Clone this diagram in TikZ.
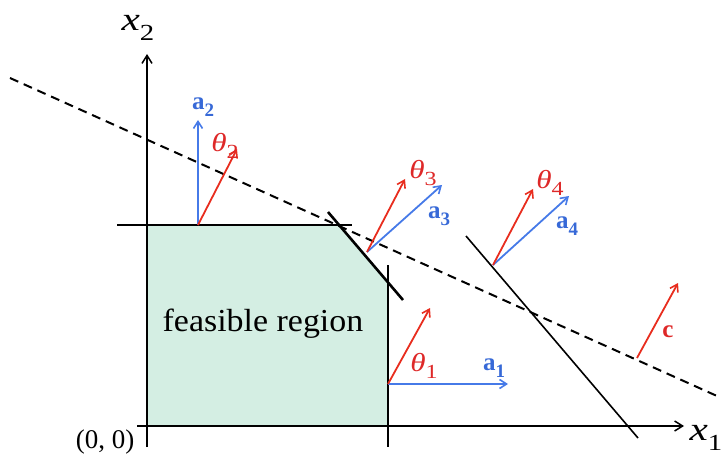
\documentclass[tikz,border=0pt]{standalone}
\usepackage{fontspec}
\setmainfont{Liberation Serif}
\usetikzlibrary{arrows.meta}
\definecolor{vblue}{RGB}{70,122,232}
\definecolor{vred}{RGB}{232,45,30}
\definecolor{lblblue}{RGB}{55,105,215}
\definecolor{lblred}{RGB}{222,40,40}
\definecolor{mint}{RGB}{212,238,227}
\newcommand{\sbs}[2]{\raisebox{-0.3em}{\fontsize{#1}{#1}\selectfont #2}}
\tikzset{
  axis/.style={line width=1.5pt,-{Straight Barb[length=8pt,width=10pt,line width=1.5pt]}},
  vec/.style={line width=1.8pt,-{Straight Barb[length=7pt,width=9pt,line width=1.6pt]}},
  bluevec/.style={vec,draw=vblue},
  redvec/.style={vec,draw=vred},
  cons/.style={line width=2.6pt},
  albl/.style={inner sep=0pt,text=lblblue,font=\fontsize{25}{25}\selectfont\bfseries},
  tlbl/.style={inner sep=0pt,text=lblred,xscale=1.2,font=\fontsize{26}{26}\selectfont},
  xlbl/.style={inner sep=0pt,xscale=1.25,font=\fontsize{33}{33}\selectfont},
}
\begin{document}
\begin{tikzpicture}[x=1pt,y=-1pt]
\useasboundingbox (0,0) rectangle (725,457);
% feasible region
\fill[mint] (147,225) -- (339,225) -- (388,282) -- (388,426) -- (147,426) -- cycle;
\node[inner sep=0pt,xscale=1.06,font=\fontsize{32}{32}\selectfont] (fr) at (263,324) {feasible region};
% axes
\coordinate (yb) at (147,447); \coordinate (yt) at (147,54);
\coordinate (xl) at (137,426); \coordinate (xr) at (684,426);
\draw[axis] (yb) -- (yt);
\draw[axis] (xl) -- (xr);
\node[xlbl] (x2) at (138,28) {\itshape x\sbs{23}{\upshape 2}};
\node[xlbl] (x1) at (706,438) {\itshape x\sbs{23}{\upshape 1}};
\node[inner sep=0pt,font=\fontsize{27}{27}\selectfont] (orig) at (105,442) {(0, 0)};
% constraint lines
\coordinate (h1) at (117,225); \coordinate (h2) at (352,225);
\draw[cons] (h1) -- (h2);
\coordinate (d1) at (328,212); \coordinate (d2) at (403,300);
\draw[cons] (d1) -- (d2);
\coordinate (v1) at (388,265); \coordinate (v2) at (388,447);
\draw[line width=2pt] (v1) -- (v2);
\coordinate (l1) at (466,236); \coordinate (l2) at (638,438);
\draw[line width=1.6pt] (l1) -- (l2);
% objective dashed line
\coordinate (o1) at (10,78); \coordinate (o2) at (717,396);
\draw[line width=2pt,dash pattern=on 9pt off 6pt] (o1) -- (o2);
% vectors at P2
\coordinate (p2) at (198,225);
\coordinate (a2t) at (198,120); \coordinate (t2t) at (237,149);
\draw[bluevec] (p2) -- (a2t);
\draw[redvec] (p2) -- (t2t);
\node[albl] (a2) at (203,107) {a\sbs{19}{2}};
\node[tlbl] (th2) at (225,146) {\itshape θ\sbs{20}{\upshape 2}};
% vectors at P3
\coordinate (p3) at (367,252);
\coordinate (a3t) at (442,185); \coordinate (t3t) at (405,179);
\draw[bluevec] (p3) -- (a3t);
\draw[redvec] (p3) -- (t3t);
\node[albl] (a3) at (439,216) {a\sbs{19}{3}};
\node[tlbl] (th3) at (423,173) {\itshape θ\sbs{20}{\upshape 3}};
% vectors at P4
\coordinate (p4) at (493,265);
\coordinate (a4t) at (569,196); \coordinate (t4t) at (533,189);
\draw[bluevec] (p4) -- (a4t);
\draw[redvec] (p4) -- (t4t);
\node[albl] (a4) at (567,226) {a\sbs{19}{4}};
\node[tlbl] (th4) at (550,183) {\itshape θ\sbs{20}{\upshape 4}};
% vectors at P1
\coordinate (p1) at (388,384);
\coordinate (a1t) at (508,384); \coordinate (t1t) at (430,308);
\draw[bluevec] (p1) -- (a1t);
\draw[redvec] (p1) -- (t1t);
\node[albl] (a1) at (494,368) {a\sbs{19}{1}};
\node[tlbl] (th1) at (424,366) {\itshape θ\sbs{20}{\upshape 1}};
% c
\coordinate (pc) at (637,358); \coordinate (ct) at (678,283);
\draw[redvec] (pc) -- (ct);
\node[albl,text=lblred] (c) at (668,332) {c};
\end{tikzpicture}
\end{document}
